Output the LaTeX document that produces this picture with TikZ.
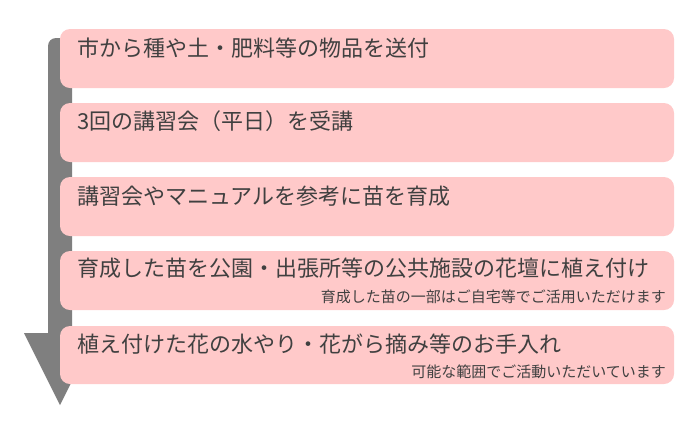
\documentclass[tikz,border=0pt]{standalone}
\usepackage{fontspec}
\newfontfamily\jp{Noto Sans CJK JP}
\definecolor{boxpink}{HTML}{FFC9C9}
\definecolor{arrowgray}{HTML}{7F7F7F}
\definecolor{txt}{HTML}{404040}
\begin{document}
\begin{tikzpicture}[x=1pt,y=-1pt,
  stepbox/.style={fill=boxpink, draw=none, rounded corners=10pt},
  titletext/.style={anchor=west, inner sep=0pt, text=txt, font=\jp\fontsize{22}{24}\selectfont},
  subtext/.style={anchor=east, inner sep=0pt, text=txt, font=\jp\fontsize{15}{17}\selectfont}]
\useasboundingbox[fill=white] (0,0) rectangle (700,424);
% gray arrow
\fill[arrowgray] (48,333) -- (48,46) [rounded corners=8pt] -- (48,38) -- (72,38) [sharp corners] -- (72,333) -- (96,333) -- (60,405) -- (24,333) -- cycle;
% boxes
\path[stepbox] (60,29) rectangle (674,88) coordinate (b1);
\path[stepbox] (60,103) rectangle (674,162);
\path[stepbox] (60,177) rectangle (674,236);
\path[stepbox] (60,251) rectangle (674,310);
\path[stepbox] (60,326) rectangle (674,384);
% texts
\node[titletext] (t1) at (77,48) {市から種や土・肥料等の物品を送付};
\node[titletext] (t2) at (77,121) {3回の講習会（平日）を受講};
\node[titletext] (t3) at (77,196) {講習会やマニュアルを参考に苗を育成};
\node[titletext] (t4) at (77,268) {育成した苗を公園・出張所等の公共施設の花壇に植え付け};
\node[subtext] (s4) at (666,297) {育成した苗の一部はご自宅等でご活用いただけます};
\node[titletext] (t5) at (77,344) {植え付けた花の水やり・花がら摘み等のお手入れ};
\node[subtext] (s5) at (666,372) {可能な範囲でご活動いただいています};
\end{tikzpicture}
\end{document}
